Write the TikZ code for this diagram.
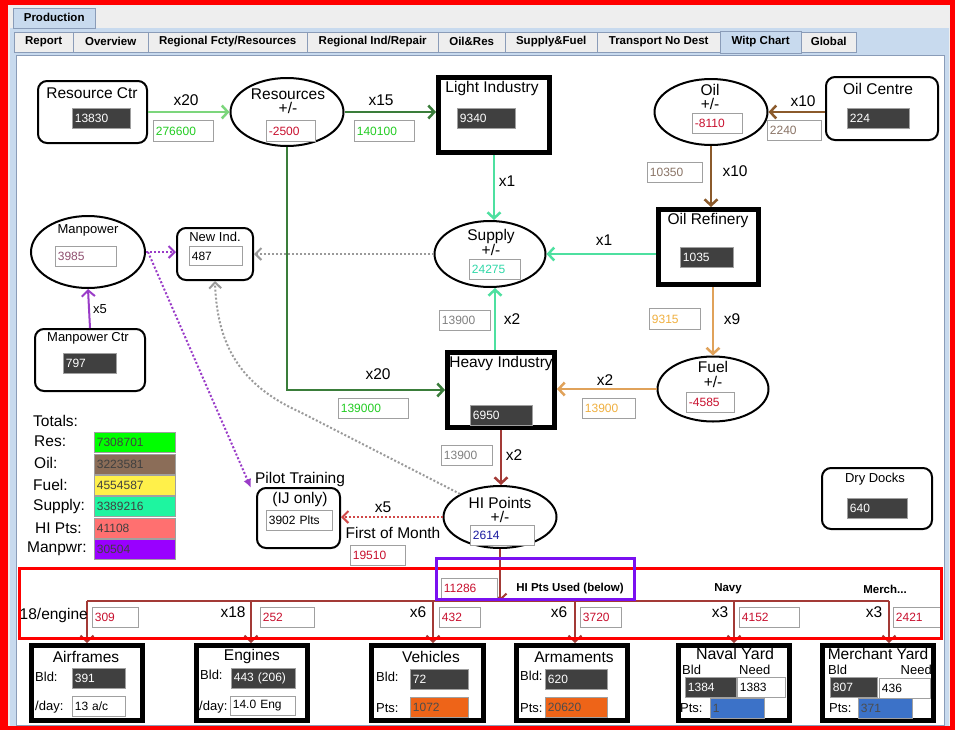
\documentclass[tikz,border=0pt]{standalone}
\usepackage{fontspec}
\setmainfont{Liberation Sans}
\usetikzlibrary{arrows.meta,shapes.geometric,calc}

\definecolor{lgreen}{HTML}{7CD67C}
\definecolor{dgreen}{HTML}{3A7D3A}
\definecolor{mint}{HTML}{4EE0A0}
\definecolor{oilbr}{HTML}{8B5A2B}
\definecolor{tanc}{HTML}{E0A25A}
\definecolor{hired}{HTML}{A33A36}
\definecolor{hidot}{HTML}{D04848}
\definecolor{mpurp}{HTML}{9A3CC8}
\definecolor{dotgray}{HTML}{9A9A9A}
\definecolor{tabblue}{HTML}{C8DAEE}
\definecolor{tabgray}{HTML}{EEEEEE}
\definecolor{tabline}{HTML}{8A9CB8}
\definecolor{panelgray}{HTML}{EEEEEE}
\definecolor{fieldbd}{HTML}{A0A0A0}
\definecolor{darkfld}{HTML}{404040}
\definecolor{txgreen}{HTML}{22CC22}
\definecolor{txred}{HTML}{C8102E}
\definecolor{txmint}{HTML}{30D8A8}
\definecolor{txbrown}{HTML}{8A7466}
\definecolor{txorange}{HTML}{F0B040}
\definecolor{txblue}{HTML}{1A1AA0}
\definecolor{txmp}{HTML}{905070}
\definecolor{txgray}{HTML}{808080}
\definecolor{ptsorange}{HTML}{EE6418}
\definecolor{ptsblue}{HTML}{3C72C8}
\definecolor{totres}{HTML}{00FF00}
\definecolor{totoil}{HTML}{8B6D58}
\definecolor{totfuel}{HTML}{FFF04A}
\definecolor{totsup}{HTML}{1EF5A0}
\definecolor{tothi}{HTML}{FF7070}
\definecolor{totmp}{HTML}{9900FF}
\definecolor{annred}{HTML}{FF0000}
\definecolor{annpurp}{HTML}{7A10F0}

\tikzset{
  big/.style={font=\fontsize{15.5}{17}\selectfont, inner sep=0pt},
  mid/.style={font=\fontsize{13}{14}\selectfont, inner sep=0pt},
  tabtxt/.style={font=\fontsize{11.5}{13}\selectfont\bfseries, inner sep=0pt},
  fldst/.style={draw=fieldbd, line width=0.8pt, inner xsep=2.5pt, inner ysep=0pt, align=left, font=\fontsize{12}{13}\selectfont},
  rbox/.style={draw, rounded corners=9pt, fill=white},
  tbox/.style={draw, fill=white},
  ell/.style={ellipse, draw, line width=2pt, fill=white, inner sep=0pt},
  flow/.style={line width=2.5pt, -{Straight Barb[length=6pt,width=13pt]}},
  dflow/.style={line width=2pt, dash pattern=on 2pt off 2pt, -{Straight Barb[length=6pt,width=12pt]}},
  tabst/.style={draw=tabline, fill=tabgray, minimum height=20pt, inner sep=0pt, anchor=south west, font=\fontsize{11.5}{13}\selectfont\bfseries}
}

\newcommand\myfield[8]{%
  \pgfmathsetmacro\fldh{#5-#3}%
  \pgfmathsetmacro\fldtw{#4-#2-5}%
  \node[fldst, fill=#6, text=#7, minimum height=\fldh pt, text width=\fldtw pt, anchor=north west] (#1) at (#2,#3) {#8};}

\newcommand\mybox[7]{%
  \pgfmathsetmacro\bxw{#4-#2-#7}\pgfmathsetmacro\bxh{#5-#3-#7}%
  \node[#6, line width=#7pt, minimum width=\bxw pt, minimum height=\bxh pt, anchor=north west, inner sep=0pt] (#1) at (#2,#3) {};}

\begin{document}
\begin{tikzpicture}[x=1pt,y=-1pt]
\useasboundingbox (0,0) rectangle (955,739);
% frame
\fill[white] (0,0) rectangle (955,739);
\fill[annred] (0,0) rectangle (955,730);
\fill[panelgray] (8,5) rectangle (950,726);
\fill[tabblue] (10,28) rectangle (949,726);
\fill[white,draw=tabline] (16,55) rectangle (944,725);
% production tab
\node[tabst, fill=tabblue, minimum width=82pt, anchor=south west] (prod) at (13,28) {Production};
% tabs
\node[tabst, minimum width=59pt] (t1) at (14,52) {Report};
\node[tabst, minimum width=75pt] (t2) at (73,52) {Overview};
\node[tabst, minimum width=159pt] (t3) at (148,52) {Regional Fcty/Resources};
\node[tabst, minimum width=131pt] (t4) at (307,52) {Regional Ind/Repair};
\node[tabst, minimum width=67pt] (t5) at (438,52) {Oil\&Res};
\node[tabst, minimum width=92pt] (t6) at (505,52) {Supply\&Fuel};
\node[tabst, minimum width=123pt] (t7) at (597,52) {Transport No Dest};
\node[tabst, fill=tabblue, minimum width=81pt, minimum height=22pt] (t8) at (720,53) {Witp Chart};
\node[tabst, minimum width=55pt] (t9) at (801,52) {Global};

% ---------- nodes ----------
\mybox{rc}{37}{80}{148}{144}{rbox}{2}
\node[big] (rct) at (92,93) {Resource Ctr};
\myfield{rcv}{72}{108}{130}{128}{darkfld}{white}{13830}

\node[ell, minimum width=113pt, minimum height=68pt] (res) at (287,112) {};
\node[big] (rest) at (288,94) {Resources};
\node[big] (respm) at (288,108) {+/-};
\myfield{resv}{266}{120}{315}{141}{white}{txred}{-2500}

\mybox{li}{436}{75}{552}{155}{tbox}{5}
\node[big] (lit) at (492,88) {Light Industry};
\myfield{liv}{457}{108}{515}{128}{darkfld}{white}{9340}

\node[ell, minimum width=113pt, minimum height=66pt] (oil) at (711,112) {};
\node[big] (oilt) at (710,90) {Oil};
\node[big] (oilpm) at (710,104) {+/-};
\myfield{oilv}{692}{113}{742}{133}{white}{txred}{-8110}

\mybox{oc}{825}{76}{939}{141}{rbox}{2}
\node[big] (oct) at (878,89) {Oil Centre};
\myfield{ocv}{847}{108}{909}{128}{darkfld}{white}{224}

\mybox{orf}{656}{207}{761}{287}{tbox}{5}
\node[big] (orft) at (708,220) {Oil Refinery};
\myfield{orfv}{680}{247}{733}{267}{darkfld}{white}{1035}

\node[ell, minimum width=111pt, minimum height=66pt] (sup) at (490,254) {};
\node[big] (supt) at (491,236) {Supply};
\node[big] (suppm) at (491,250) {+/-};
\myfield{supv}{469}{259}{520}{279}{white}{txmint}{24275}

\node[ell, minimum width=111pt, minimum height=65pt] (fuel) at (713,389) {};
\node[big] (fuelt) at (713,367) {Fuel};
\node[big] (fuelpm) at (713,382) {+/-};
\myfield{fuelv}{686}{392}{734}{412}{white}{txred}{-4585}

\mybox{hi}{445}{350}{557}{430}{tbox}{5}
\node[big] (hit) at (501,363) {Heavy Industry};
\myfield{hiv}{470}{405}{532}{425}{darkfld}{white}{6950}

\node[ell, minimum width=113pt, minimum height=62pt] (hip) at (500,517) {};
\node[big] (hipt) at (500,503) {HI Points};
\node[big] (hippm) at (500,517) {+/-};
\myfield{hipv}{470}{525}{534}{545}{white}{txblue}{2614}

\mybox{pilot}{256}{487}{341}{549}{rbox}{2}
\node[big] (pilt) at (300,479) {Pilot Training};
\node[big] (pilt2) at (300,499) {(IJ only)};
\myfield{pilv}{266}{510}{332}{530}{white}{black}{3902 Plts}

\node[ell, minimum width=114pt, minimum height=72pt] (mp) at (88,252) {};
\node[mid] (mpt) at (88,230) {Manpower};
\myfield{mpv}{55}{246}{116}{266}{white}{txmp}{3985}

\mybox{mpc}{34}{328}{146}{392}{rbox}{2}
\node[mid] (mpct) at (88,338) {Manpower Ctr};
\myfield{mpcv}{63}{353}{116}{373}{darkfld}{white}{797}

\mybox{ni}{176}{227}{254}{281}{rbox}{2}
\node[mid] (nit) at (215,237) {New Ind.};
\myfield{niv}{189}{246}{242}{265}{white}{black}{487}

\mybox{dd}{821}{467}{933}{530}{rbox}{2}
\node[mid] (ddt) at (875,479) {Dry Docks};
\myfield{ddv}{847}{498}{907}{518}{darkfld}{white}{640}

% ---------- connectors ----------
\draw[flow, lgreen] (rc.east) -- (rc.east -| res.west);
\node[big] (l1) at (186,100) {x20};
\myfield{f1}{153}{120}{213}{141}{white}{txgreen}{276600}

\draw[flow, dgreen] (res.east) -- (res.east -| li.west);
\node[big] (l2) at (381,100) {x15};
\myfield{f2}{354}{120}{414}{141}{white}{txgreen}{140100}

\draw[flow, mint] (li.south) -- (li.south |- sup.north);
\node[big] (l3) at (507,181) {x1};

\draw[flow, oilbr] (oil.east -| oc.west) -- (oil.east);
\node[big] (l4) at (803,101) {x10};
\myfield{f4}{767}{120}{821}{140}{white}{txbrown}{2240}

\draw[flow, oilbr] (oil.south) -- (oil.south |- orf.north);
\node[big] (l5) at (735,171) {x10};
\myfield{f5}{647}{162}{702}{182}{white}{txbrown}{10350}

\draw[flow, mint] (orf.west |- sup.east) -- (sup.east);
\node[big] (l6) at (604,240) {x1};

\draw[flow, tanc] (fuel.north |- orf.south) -- (fuel.north);
\node[big] (l7) at (732,319) {x9};
\myfield{f7}{649}{308}{700}{329}{white}{txorange}{9315}

\draw[flow, tanc] (fuel.west) -- (fuel.west -| hi.east);
\node[big] (l8) at (605,380) {x2};
\myfield{f8}{582}{398}{635}{418}{white}{txorange}{13900}

\draw[flow, mint] ([xshift=-6pt]hi.north) -- ([xshift=-6pt]hi.north |- sup.south);
\node[big] (l9) at (512,319) {x2};
\myfield{f9}{439}{310}{490}{330}{white}{txgray}{13900}

\draw[flow, dgreen, rounded corners=0pt] (res.south) |- (hi.west);
\node[big] (l10) at (378,374) {x20};
\myfield{f10}{338}{398}{408}{418}{white}{txgreen}{139000}

\draw[flow, hired] (hi.south) -- (hi.south |- hip.north);
\node[big] (l11) at (514,455) {x2};
\myfield{f11}{441}{445}{492}{465}{white}{txgray}{13900}

\draw[dflow, hidot] (hip.west) -- (hip.west -| pilot.east);
\node[big] (l12) at (383,507) {x5};
\node[big] (l12b) at (393,533) {First of Month};
\myfield{f12}{350}{545}{405}{565}{white}{txred}{19510}

\draw[flow, mpurp, line width=2pt] (mpc.north) -- (mp.south);
\node[mid] (l13) at (100,309) {x5};

\draw[dflow, mpurp] (mp.east) -- (mp.east -| ni.west);
\draw[line width=2pt, dash pattern=on 2pt off 2pt, mpurp, -{Latex[length=9pt,width=8pt]}] ([xshift=2pt]mp.east) -- ([xshift=-5pt,yshift=-1pt]pilot.north west);
\draw[dflow, dotgray] (sup.west) -- (sup.west -| ni.east);
\draw[dflow, dotgray] (hip.150) -- (300,412) .. controls (240,385) and (217,345) .. (ni.south);

% ---------- totals ----------
\node[big, anchor=west] (tot) at (33,421) {Totals:};
\node[big, anchor=west] (tr1) at (34,441) {Res:};
\node[big, anchor=west] (tr2) at (34,463) {Oil:};
\node[big, anchor=west] (tr3) at (33,485) {Fuel:};
\node[big, anchor=west] (tr4) at (33,506) {Supply:};
\node[big, anchor=west] (tr5) at (35,528) {HI Pts:};
\node[big, anchor=west] (tr6) at (27,549) {Manpwr:};
\myfield{tv1}{94}{432}{175}{452}{totres}{black!75}{7308701}
\myfield{tv2}{94}{454}{175}{474}{totoil}{black!75}{3223581}
\myfield{tv3}{94}{475}{175}{495}{totfuel}{black!75}{4554587}
\myfield{tv4}{94}{496}{175}{516}{totsup}{black!75}{3389216}
\myfield{tv5}{94}{518}{175}{538}{tothi}{black!75}{41108}
\myfield{tv6}{94}{539}{175}{559}{totmp}{black!75}{30504}

% ---------- bottom boxes ----------
\mybox{af}{29}{643}{145}{723}{tbox}{5}
\node[big] (aft) at (86,657) {Airframes};
\node[mid, anchor=west] (afb) at (35,677) {Bld:};
\myfield{afv}{72}{668}{125}{688}{darkfld}{white}{391}
\node[mid, anchor=west] (afd) at (35,707) {/day:};
\myfield{afv2}{72}{696}{125}{716}{white}{black}{13 a/c}

\mybox{en}{194}{643}{310}{723}{tbox}{5}
\node[big] (ent) at (252,656) {Engines};
\node[mid, anchor=west] (enb) at (200,675) {Bld:};
\myfield{env}{231}{668}{295}{688}{darkfld}{white}{443 (206)}
\node[mid, anchor=west] (end) at (199,707) {/day:};
\myfield{env2}{230}{696}{295}{715}{white}{black}{14.0 Eng}

\mybox{ve}{369}{643}{486}{723}{tbox}{5}
\node[big] (vet) at (431,657) {Vehicles};
\node[mid, anchor=west] (veb) at (376,677) {Bld:};
\myfield{vev}{410}{669}{468}{689}{darkfld}{white}{72}
\node[mid, anchor=west] (vep) at (376,708) {Pts:};
\myfield{vev2}{410}{697}{468}{717}{ptsorange}{black!70}{1072}

\mybox{ar}{514}{643}{630}{723}{tbox}{5}
\node[big] (art) at (574,657) {Armaments};
\node[mid, anchor=west] (arb) at (520,676) {Bld:};
\myfield{arv}{545}{669}{607}{689}{darkfld}{white}{620}
\node[mid, anchor=west] (arp) at (520,708) {Pts:};
\myfield{arv2}{545}{697}{607}{717}{ptsorange}{black!70}{20620}

\mybox{ny}{676}{643}{792}{723}{tbox}{5}
\node[big, font=\fontsize{16}{17}\selectfont] (nyt) at (735,654) {Naval Yard};
\node[mid, font=\fontsize{13}{14}\selectfont, anchor=west] (nyb) at (682,669.5) {Bld};
\node[mid, font=\fontsize{13}{14}\selectfont, anchor=west] (nyn) at (739,669.5) {Need};
\myfield{nyv}{685}{677}{736}{697}{darkfld}{white}{1384}
\myfield{nyv2}{737}{677}{785}{697}{white}{black}{1383}
\node[mid, anchor=west] (nyp) at (680,708) {Pts:};
\myfield{nyv3}{710}{698}{764}{718}{ptsblue}{black!70}{1}

\mybox{my}{820}{643}{936}{723}{tbox}{5}
\node[big, font=\fontsize{15.5}{17}\selectfont] (myt) at (878,654) {Merchant Yard};
\node[mid, font=\fontsize{13}{14}\selectfont, anchor=west] (myb) at (828,669.5) {Bld};
\node[mid, font=\fontsize{13}{14}\selectfont, anchor=east] (myn) at (932,669.5) {Need};
\myfield{myv}{830}{677}{877}{697}{darkfld}{white}{807}
\myfield{myv2}{879}{678}{930}{698}{white}{black}{436}
\node[mid, anchor=west] (myp) at (829,708) {Pts:};
\myfield{myv3}{858}{698}{912}{718}{ptsblue}{black!70}{371}

% ---------- HI points distribution ----------
\coordinate (busc) at (500,601);
\coordinate (d1) at (87,601);
\coordinate (d2) at (251,601);
\coordinate (d3) at (433,601);
\coordinate (d4) at (575,601);
\coordinate (d5) at (734,601);
\coordinate (d6) at (889,601);
\draw[hired, line width=2pt] (d1) -- (d6);
\draw[flow, hired, line width=2pt] (hip.south) -- (busc);
\draw[flow, hired, line width=2pt] (d1) -- (d1 |- af.north);
\draw[flow, hired, line width=2pt] (d2) -- (d2 |- en.north);
\draw[flow, hired, line width=2pt] (d3) -- (d3 |- ve.north);
\draw[flow, hired, line width=2pt] (d4) -- (d4 |- ar.north);
\draw[flow, hired, line width=2pt] (d5) -- (d5 |- ny.north);
\draw[flow, hired, line width=2pt] (d6) -- (d6 |- my.north);

\node[big, anchor=east] (b0) at (88,615) {18/engine};
\node[big] (b2) at (233,612) {x18};
\node[big] (b3) at (418,612) {x6};
\node[big] (b4) at (559,612) {x6};
\node[big] (b5) at (720,612) {x3};
\node[big] (b6) at (874,612) {x3};
\myfield{g1}{92}{607}{138}{627}{white}{txred}{309}
\myfield{g2}{260}{607}{314}{627}{white}{txred}{252}
\myfield{g3}{439}{607}{480}{627}{white}{txred}{432}
\myfield{g4}{580}{607}{621}{627}{white}{txred}{3720}
\myfield{g5}{739}{607}{799}{627}{white}{txred}{4152}
\myfield{g6}{893}{607}{942}{627}{white}{txred}{2421}

\myfield{used}{441}{578}{497}{598}{white}{txred}{11286}
\node[tabtxt] (usedt) at (570,589) {HI Pts Used (below)};
\node[tabtxt] (navy) at (728,589) {Navy};
\node[tabtxt] (merch) at (885,589) {Merch...};

% annotations
\draw[annred, line width=3pt] (19,568) rectangle (941,638);
\draw[annpurp, line width=3pt] (436,558) rectangle (634,599);
\end{tikzpicture}
\end{document}
